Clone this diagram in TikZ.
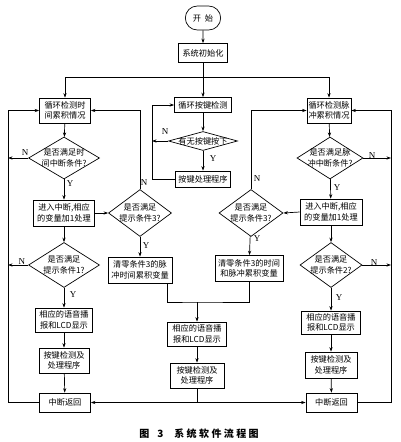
\documentclass[tikz,border=0pt]{standalone}
\usepackage{fontspec}
\setmainfont{Liberation Serif}
\newfontfamily\cjk{Noto Sans CJK SC}
\usetikzlibrary{shapes.geometric,shapes.misc,arrows.meta,calc}
\begin{document}
\begin{tikzpicture}[x=1pt,y=-1pt,
  lw/.style={line width=0.7pt},
  txt/.style={font=\cjk\fontsize{8.2}{10.5}\selectfont, align=center},
  bx/.style 2 args={draw, lw, txt, inner sep=1pt, minimum width=#1pt, minimum height=#2pt},
  dia/.style n args={3}{draw, lw, diamond, inner sep=0pt, minimum width=#1pt, minimum height=#2pt,
     label={[txt, inner sep=0pt]center:{#3}}},
  yn/.style={font=\fontsize{9}{9}\selectfont, inner sep=0pt},
  arr/.style={lw, -{Stealth[length=4.5pt,width=3.2pt]}},
  ln/.style={lw}]
\useasboundingbox (0,0) rectangle (400,442);

% nodes
\node[draw, lw, rounded rectangle, minimum width=42pt, minimum height=24pt, txt] (start) at (203,18) {开\hspace{4pt}始};
\node[bx={49}{19}] (init) at (203,53) {系统初始化};
\coordinate (top) at (203,77);

\node[bx={51}{25}] (L1) at (65,110.5) {循环检测时\\间累积情况};
\node[bx={57}{15}] (M1) at (203,105) {循环按键检测};
\node[bx={44}{25}] (R1) at (329,110.5) {循环检测脉\\冲累积情况};

\node[dia={69}{19}{有无按键按下}] (Md) at (203,141) {};
\node[bx={55}{16}] (M2) at (203,179) {按键处理程序};
\coordinate (ml) at (152,0);

\node[dia={71}{42}{是否满足时\\间中断条件?}] (Ld1) at (64,158) {};
\node[bx={61}{26}] (Ln) at (64,213) {进入中断,相应\\的变量加1处理};
\node[dia={63}{47}{是否满足\\提示条件3?}] (Ld3) at (140,213) {};
\node[bx={64}{26}] (Lz) at (140,270) {清零条件3的脉\\冲时间累积变量};
\node[dia={71}{45}{是否满足\\提示条件1?}] (Ld2) at (64,265) {};
\node[bx={57}{24}] (Lv) at (64,320) {相应的语音播\\报和LCD显示};
\node[bx={50}{25}] (Lk) at (64,360.5) {按键检测及\\处理程序};
\node[bx={51}{19}] (Lr) at (65,402.5) {中断返回};

\node[dia={64}{47}{是否满足\\提示条件3?}] (Rd3) at (251,213) {};
\node[bx={68}{26}] (Rz) at (249,268.5) {清零条件3的时间\\和脉冲累积变量};
\node[dia={66}{42}{是否满足脉\\冲中断条件?}] (Rd1) at (330,158) {};
\node[bx={62}{26}] (Rn) at (331,212) {进入中断,相应\\的变量加1处理};
\node[dia={62}{45}{是否满足\\提示条件2?}] (Rd2) at (331,265) {};
\node[bx={59}{23}] (Rv) at (331,322.5) {相应的语音播\\报和LCD显示};
\node[bx={52}{26}] (Rk) at (331,365) {按键检测及\\处理程序};
\node[bx={51}{19}] (Rr) at (331.5,402.5) {中断返回};

\node[bx={59}{24}] (Mv) at (197,334) {相应的语音播\\报和LCD显示};
\node[bx={54}{25}] (Mk) at (197,375.5) {按键检测及\\处理程序};

\coordinate (lx) at (8,0);
\coordinate (rx) at (391,0);

% connectors top
\draw[arr] (start) -- (init);
\draw[arr] (init) -- (M1);
\draw[arr] (top) -| (L1.north);
\draw[arr] (top) -| (R1.north);

% middle key loop
\draw[arr] (M1) -- (Md);
\draw[arr] (Md) -- (M2);
\draw[arr] (M2.west) -- (M2.west -| ml) |- (M1.west);
\draw[arr] (Md.west) -- (Md.west -| ml);
\node[yn] (yM) at (213,159) {Y};
\node[yn] (nM) at (165,132) {N};

% left column
\draw[arr] (L1) -- (Ld1);
\draw[arr] (Ld1) -- (Ln);
\draw[arr] (Ld1.west) -- (Ld1.west -| lx);
\draw[arr] (Ln) -- (Ld2);
\draw[arr] (Ld2) -- (Lv);
\draw[arr] (Ld2.west) -- (Ld2.west -| lx);
\draw[arr] (Lv) -- (Lk);
\draw[arr] (Lk) -- (Lr);
\draw[arr] (Lr.west) -- (Lr.west -| lx) |- (L1.west);
\draw[arr] (Ln.east) -- (Ld3.west);
\draw[arr] (Ld3.north) |- (L1.east);
\draw[arr] (Ld3) -- (Lz);
\node[yn] (yL1) at (70,184) {Y};
\node[yn] (nL1) at (25,153) {N};
\node[yn] (yL2) at (73,295) {Y};
\node[yn] (nL2) at (22,262) {N};
\node[yn] (nL3) at (144,183) {N};
\node[yn] (yL3) at (146,246) {Y};

% right column
\draw[arr] (R1) -- (Rd1);
\draw[arr] (Rd1) -- (Rn);
\draw[arr] (Rd1.east) -- (Rd1.east -| rx);
\draw[arr] (Rn) -- (Rd2);
\draw[arr] (Rd2) -- (Rv);
\draw[arr] (Rd2.east) -- (Rd2.east -| rx);
\draw[arr] (Rv) -- (Rk);
\draw[arr] (Rk) -- (Rr);
\draw[arr] (Rr.east) -- (Rr.east -| rx) |- (R1.east);
\draw[arr] (Rn.west) -- (Rd3.east);
\draw[arr] (Rd3.north) |- (R1.west);
\draw[arr] (Rd3) -- (Rz);
\node[yn] (yR1) at (337,188) {Y};
\node[yn] (nR1) at (372,156) {N};
\node[yn] (yR2) at (339,298) {Y};
\node[yn] (nR2) at (374,263) {N};
\node[yn] (nR3) at (257,179) {N};
\node[yn] (yR3) at (257,239) {Y};

% merge in the middle
\coordinate (j) at (197,302);
\draw[ln] ([xshift=27pt]Lz.south) |- (j) -| (Rz.south);
\draw[arr] (j) -- (Mv);
\draw[arr] (Mv) -- (Mk);
\coordinate (k) at (Mk.south |- Lr.east);
\draw[ln] (Mk) -- (k);
\draw[arr] (k) -- (Lr.east);
\draw[arr] (k) -- (Rr.west);

% caption
\node[font=\cjk\bfseries\fontsize{10}{10}\selectfont, inner sep=0pt] (cap) at (199,434)
  {图\hspace{8pt}3\hspace{11pt}系\hspace{2.4pt}统\hspace{2.4pt}软\hspace{2.4pt}件\hspace{2.4pt}流\hspace{2.4pt}程\hspace{2.4pt}图};
\end{tikzpicture}
\end{document}
